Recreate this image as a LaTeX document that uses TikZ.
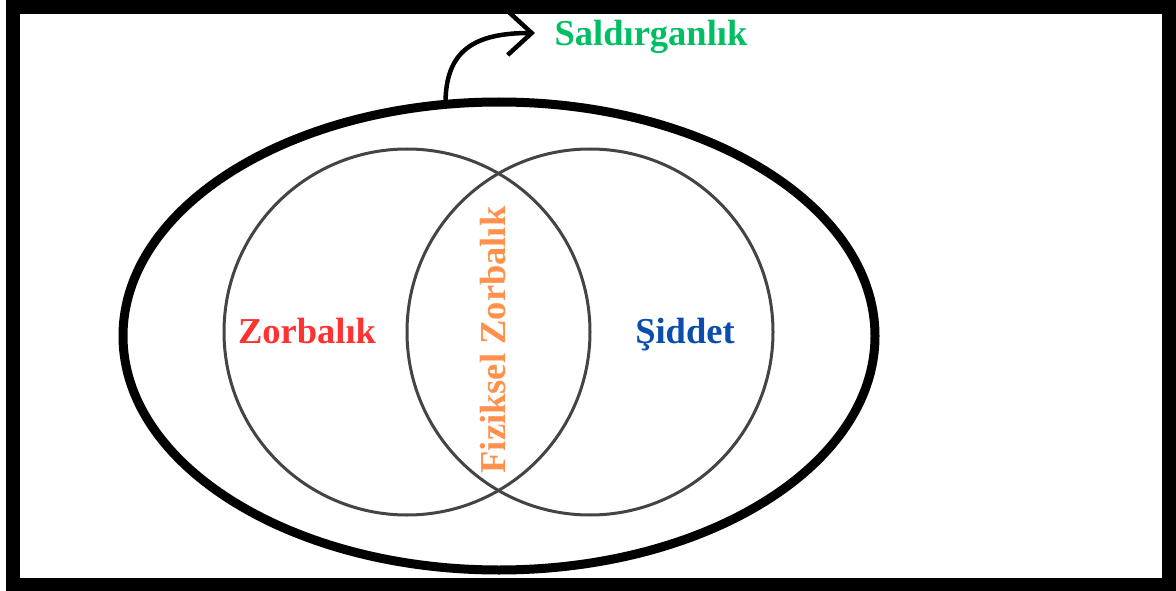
\documentclass[tikz,border=0pt]{standalone}
\usepackage{fontspec}
\setmainfont{Liberation Serif}
\usetikzlibrary{shapes.geometric,arrows.meta}
\definecolor{cred}{HTML}{FF3131}
\definecolor{cblue}{HTML}{0B4DAF}
\definecolor{corange}{HTML}{FF914D}
\definecolor{cgreen}{HTML}{00BF63}
\definecolor{cgray}{HTML}{444444}
\tikzset{
  lbl/.style={font=\bfseries\fontsize{36.5}{42}\selectfont, inner sep=0pt, anchor=base},
  venn/.style={circle, draw=cgray, line width=3pt, minimum size=366pt, inner sep=0pt, outer sep=0pt},
}
\begin{document}
\begin{tikzpicture}[x=1pt,y=-1pt]
\useasboundingbox (0,0) rectangle (1176,591);
\fill[white] (0,0) rectangle (1176,591);
\draw[line width=14pt] (12.5,7) rectangle (1168.5,584.5);
\node[ellipse, draw, line width=9pt, minimum width=752pt, minimum height=468pt, inner sep=0pt, outer sep=0pt] (E) at (499,336) {};
\node[venn] (L) at (407,332) {};
\node[venn] (R) at (590,332) {};
\node[lbl, text=cgreen] (S) at (651,46) {Saldırganlık};
\node[lbl, text=cred] (Z) at (307,343) {Zorbalık};
\node[lbl, text=cblue] (D) at (685,343) {Şiddet};
\node[lbl, text=corange, rotate=90] (F) at (505,340) {Fiziksel Zorbalık};
\coordinate (tip) at (535,33);
\draw[line width=4.5pt, -{Straight Barb[length=24pt,width=44pt,line width=4.5pt]}] (E.103) .. controls (445,50) and (475,33) .. (tip);
\end{tikzpicture}
\end{document}
